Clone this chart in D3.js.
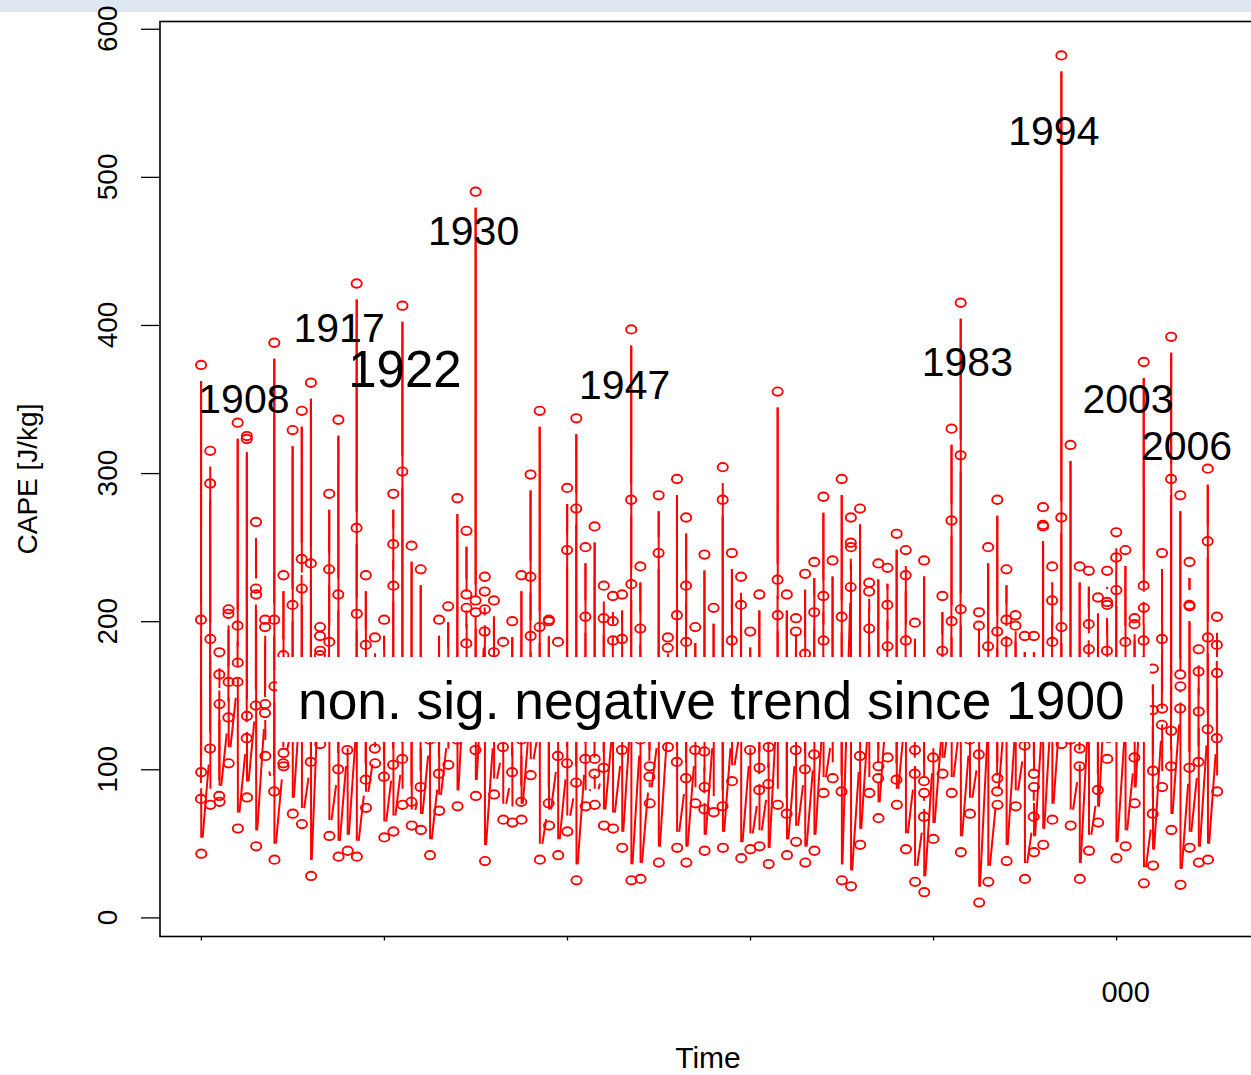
<!DOCTYPE html>
<html>
<head>
<meta charset="utf-8">
<script src="https://cdn.jsdelivr.net/npm/d3@7"></script>
<style>
    body { margin: 0; background: #fff; }
    svg { display: block; font-family: "Liberation Sans", Arial, sans-serif; }
</style>
</head>
<body>
<svg id="chart" width="1251" height="1075"></svg>
<script>
// five summer values per year, 1900 onwards
const firstYear = 1900;
const capeByYear = [
    [80, 201, 373, 98, 43], [114, 293, 315, 188, 76], [82, 164, 179, 144, 78], [135, 205, 208, 159, 104],
    [159, 197, 334, 172, 60], [121, 323, 325, 136, 81], [143, 222, 267, 218, 48], [138, 196, 201, 144, 109],
    [85, 201, 388, 156, 39], [104, 177, 231, 111, 102], [130, 211, 329, 150, 70], [160, 242, 342, 222, 63],
    [105, 239, 361, 140, 28], [177, 190, 196, 180, 117], [150, 235, 286, 186, 55], [100, 218, 336, 160, 41],
    [113, 140, 165, 125, 45], [130, 263, 428, 205, 41], [93, 184, 231, 150, 74], [114, 160, 189, 130, 104],
    [95, 170, 201, 145, 54], [103, 252, 286, 224, 58], [107, 301, 413, 150, 76], [78, 160, 251, 135, 62],
    [88, 150, 235, 125, 59], [120, 155, 170, 135, 42], [97, 165, 201, 130, 72], [125, 172, 210, 150, 103],
    [120, 160, 283, 140, 75], [185, 218, 261, 209, 150], [113, 214, 490, 206, 82], [193, 220, 230, 208, 38],
    [125, 179, 214, 150, 83], [115, 160, 186, 135, 66], [98, 150, 200, 125, 64], [78, 165, 231, 120, 66],
    [140, 230, 299, 190, 96], [130, 196, 342, 150, 39], [77, 200, 201, 150, 62], [109, 155, 186, 130, 42],
    [104, 248, 290, 150, 58], [91, 276, 337, 140, 25], [107, 203, 250, 160, 75], [97, 140, 264, 107, 76],
    [101, 202, 224, 150, 62], [130, 200, 217, 187, 60], [113, 188, 218, 150, 47], [140, 282, 397, 225, 25],
    [120, 195, 237, 160, 26], [95, 130, 150, 102, 77], [125, 246, 285, 160, 37], [130, 182, 189, 150, 115],
    [105, 204, 296, 145, 47], [94, 224, 270, 186, 37], [113, 160, 196, 130, 77], [73, 112, 245, 88, 45],
    [125, 165, 209, 145, 71], [75, 282, 304, 150, 47], [125, 187, 246, 160, 92], [130, 211, 230, 155, 40],
    [113, 160, 193, 125, 46], [86, 140, 218, 101, 48], [90, 135, 160, 115, 36], [150, 228, 355, 204, 76],
    [70, 160, 218, 130, 42], [113, 193, 202, 140, 51], [100, 178, 232, 150, 37], [110, 206, 240, 150, 45],
    [140, 217, 284, 187, 84], [125, 165, 241, 145, 94], [85, 203, 296, 140, 25], [223, 253, 270, 250, 21],
    [109, 160, 276, 130, 49], [140, 220, 226, 195, 84], [94, 150, 239, 102, 67], [150, 211, 236, 183, 108],
    [93, 160, 259, 130, 76], [140, 231, 248, 187, 46], [97, 150, 199, 113, 24], [68, 92, 241, 84, 17],
    [108, 140, 160, 125, 53], [130, 180, 217, 155, 97], [150, 268, 330, 200, 84], [135, 312, 415, 208, 44],
    [120, 150, 170, 130, 70], [110, 197, 206, 150, 10], [130, 183, 250, 160, 24], [85, 193, 282, 94, 76],
    [150, 201, 235, 186, 38], [130, 197, 204, 160, 75], [116, 155, 190, 130, 26], [68, 97, 190, 88, 44],
    [140, 265, 277, 264, 49], [150, 214, 237, 186, 66], [150, 270, 582, 196, 117], [120, 160, 319, 140, 62],
    [102, 150, 237, 114, 26], [140, 198, 234, 181, 45], [86, 160, 216, 130, 64], [180, 213, 234, 211, 107],
    [150, 243, 260, 221, 40], [130, 186, 248, 160, 48], [108, 198, 202, 140, 77], [187, 224, 375, 209, 23],
    [70, 140, 168, 99, 35], [130, 188, 246, 141, 88], [102, 296, 392, 126, 59], [141, 164, 285, 156, 22],
    [101, 211, 240, 210, 47], [105, 166, 181, 139, 37], [127, 254, 303, 189, 39], [121, 184, 203, 165, 85]
];

const yTicks = [0, 100, 200, 300, 400, 500, 600];
const xTicks = [1900, 1920, 1940, 1960, 1980, 2000];
const xTickLabels = ["", "", "", "", "", "000"];

const peakLabels = ["1908", "1917", "1922", "1930", "1947", "1983", "1994", "2003", "2006"];
const peakLabelX = [1904.7, 1915.1, 1922.3, 1929.8, 1946.3, 1983.75, 1993.2, 2001.3, 2007.7];
const peakLabelY = [350.5, 398.4, 370.5, 464, 360, 375.5, 531.5, 350.5, 318.7];
const bigLabel = "1922";

const trendText = "non. sig. negative trend since 1900";

const config = {
    left: 160,
    right: 1265,
    top: 21.5,
    bottom: 936.5,
    gap: 16,
    red: "#ff0000"
};

const svg = d3.select("#chart");

const x = d3.scaleLinear()
    .domain([1895.53, 2016.27])
    .range([config.left, config.right]);

const y = d3.scaleLinear()
    .domain([-12.9, 604.9])
    .range([config.bottom, config.top]);

const points = [];
capeByYear.forEach(function(values, i) {
    values.forEach(function(v, m) {
        points.push({ t: firstYear + i + m * 0.01, v: v });
    });
});

// top strip
svg.append("rect")
    .attr("x", 0)
    .attr("y", 0)
    .attr("width", 1251)
    .attr("height", 12)
    .attr("fill", "#dfe8f2");

// axes
const yAxis = svg.append("g")
    .attr("transform", "translate(" + config.left + ",0)")
    .call(d3.axisLeft(y).tickValues(yTicks).tickSize(19).tickFormat(""));

yAxis.select(".domain").remove();
yAxis.selectAll(".tick line").attr("stroke", "#000").attr("stroke-width", 1.3);

svg.selectAll(".y-label")
    .data(yTicks)
    .enter()
    .append("text")
    .attr("class", "y-label")
    .attr("transform", function(d) {
        return "translate(117," + y(d) + ") rotate(-90)";
    })
    .attr("text-anchor", "middle")
    .attr("font-size", 28)
    .attr("fill", "#000")
    .text(function(d) { return d; });

const xAxis = svg.append("g")
    .attr("transform", "translate(0," + config.bottom + ")")
    .call(d3.axisBottom(x).tickValues(xTicks).tickSize(4)
        .tickFormat(function(d, i) { return xTickLabels[i]; }));

xAxis.select(".domain").remove();
xAxis.selectAll(".tick line").attr("stroke", "#000").attr("stroke-width", 1.3);
xAxis.selectAll(".tick text")
    .attr("y", 65)
    .attr("dy", 0)
    .attr("dx", 9)
    .attr("font-size", 29)
    .attr("font-family", "Liberation Sans, Arial, sans-serif")
    .attr("fill", "#000");

svg.append("text")
    .attr("x", 708)
    .attr("y", 1068)
    .attr("text-anchor", "middle")
    .attr("font-size", 30)
    .text("Time");

svg.append("text")
    .attr("transform", "translate(37,479) rotate(-90)")
    .attr("text-anchor", "middle")
    .attr("font-size", 28)
    .text("CAPE [J/kg]");

// plot frame
svg.append("rect")
    .attr("x", config.left)
    .attr("y", config.top)
    .attr("width", config.right - config.left)
    .attr("height", config.bottom - config.top)
    .attr("fill", "none")
    .attr("stroke", "#000")
    .attr("stroke-width", 1.6);

// line pieces with gaps around points, as in R type = "b"
function gapSegments(pts, gap) {
    const segs = [];
    for (let i = 1; i < pts.length; i++) {
        const x1 = x(pts[i - 1].t), y1 = y(pts[i - 1].v);
        const x2 = x(pts[i].t), y2 = y(pts[i].v);
        const len = Math.hypot(x2 - x1, y2 - y1);
        if (len <= 2 * gap) continue;
        const ux = (x2 - x1) / len, uy = (y2 - y1) / len;
        segs.push([x1 + ux * gap, y1 + uy * gap, x2 - ux * gap, y2 - uy * gap]);
    }
    return segs;
}

svg.append("g")
    .selectAll("line")
    .data(gapSegments(points, config.gap))
    .enter()
    .append("line")
    .attr("x1", function(d) { return d[0]; })
    .attr("y1", function(d) { return d[1]; })
    .attr("x2", function(d) { return d[2]; })
    .attr("y2", function(d) { return d[3]; })
    .attr("stroke", config.red)
    .attr("stroke-width", 2);

svg.append("g")
    .selectAll("ellipse")
    .data(points)
    .enter()
    .append("ellipse")
    .attr("cx", function(d) { return x(d.t); })
    .attr("cy", function(d) { return y(d.v); })
    .attr("rx", 5.1)
    .attr("ry", 4.2)
    .attr("fill", "none")
    .attr("stroke", config.red)
    .attr("stroke-width", 1.9);

// trend note
svg.append("rect")
    .attr("x", 277)
    .attr("y", 657)
    .attr("width", 873)
    .attr("height", 85)
    .attr("fill", "#fff");

svg.append("text")
    .attr("x", 298)
    .attr("y", 719)
    .attr("font-size", 53.3)
    .attr("fill", "#000")
    .text(trendText);

// peak years
svg.append("g")
    .selectAll("text")
    .data(peakLabels)
    .enter()
    .append("text")
    .attr("x", function(d, i) { return x(peakLabelX[i]); })
    .attr("y", function(d, i) { return y(peakLabelY[i]); })
    .attr("dy", "0.36em")
    .attr("text-anchor", "middle")
    .attr("font-size", function(d) { return d === bigLabel ? 51 : 41; })
    .attr("fill", "#000")
    .text(function(d) { return d; });
</script>
</body>
</html>
